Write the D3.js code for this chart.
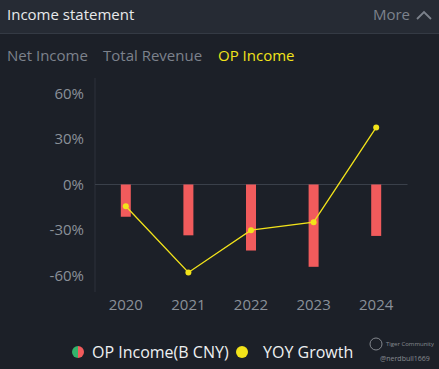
<!DOCTYPE html>
<html><head><meta charset="utf-8">
<script src="https://cdn.jsdelivr.net/npm/d3@7"></script>
<style>
html,body{margin:0;padding:0;background:#1c2028;}
svg{display:block;font-family:"Open Sans","Noto Sans",sans-serif;}
</style></head>
<body><svg id="c" width="439" height="369"></svg>
<script>
const years = ["2020","2021","2022","2023","2024"];
const opIncome = [-2.12, -3.34, -4.34, -5.41, -3.38]; // B CNY
const yoyGrowth = [-14.3, -57.8, -30.0, -24.8, 37.5]; // %
const yTicks = [60, 30, 0, -30, -60];
const tabs = ["Net Income", "Total Revenue", "OP Income"];

const svg = d3.select("#c");
const W = 439, H = 369;
svg.append("rect").attr("width", W).attr("height", H).attr("fill", "#1c2028");
svg.append("rect").attr("width", W).attr("height", 33).attr("fill", "#262b34");
svg.append("line").attr("x1", 0).attr("x2", W).attr("y1", 33.5).attr("y2", 33.5).attr("stroke", "#343a44");
svg.append("text").attr("x", 7).attr("y", 20).attr("fill", "#e8e9eb").attr("font-size", 15).text("Income statement");
svg.append("text").attr("x", 410).attr("y", 20).attr("text-anchor", "end").attr("fill", "#7c828c").attr("font-size", 15).text("More");
svg.append("path").attr("d", "M417,19 L424,12 L431,19").attr("fill", "none").attr("stroke", "#7c828c").attr("stroke-width", 1.8);

const tabX = [7, 103, 218];
tabs.forEach((t, i) => {
  svg.append("text").attr("x", tabX[i]).attr("y", 61).attr("font-size", 15)
    .attr("fill", i === 2 ? "#f2e31a" : "#7c828c").text(t);
});

const x = d3.scaleBand().domain(years).range([94.5, 407.5]);
const y = d3.scaleLinear().domain([-70, 70]).range([291, 78]);
const yBar = d3.scaleLinear().domain([-7, 7]).range([291, 78]);

// y axis
const yAxis = svg.append("g").attr("transform", "translate(95,0)")
  .call(d3.axisLeft(y).tickValues(yTicks).tickSize(0).tickPadding(11).tickFormat(d => d + "%"));
yAxis.select(".domain").attr("stroke", "#2c313a").attr("d", "M0,78V292");
yAxis.selectAll("text").attr("fill", "#8a9099").attr("font-size", 15).attr("font-family", "Open Sans, Noto Sans, sans-serif");

// x axis labels
const xAxis = svg.append("g").attr("transform", "translate(0,292)")
  .call(d3.axisBottom(x).tickSize(0).tickPadding(7));
xAxis.select(".domain").remove();
xAxis.selectAll("text").attr("fill", "#8a9099").attr("font-size", 15).attr("font-family", "Open Sans, Noto Sans, sans-serif");

// zero line
svg.append("line").attr("x1", 95).attr("x2", 407.5).attr("y1", y(0)).attr("y2", y(0)).attr("stroke", "#3a404a");

// bars
svg.selectAll("rect.bar").data(opIncome).join("rect").attr("class", "bar")
  .attr("x", (d, i) => x(years[i]) + x.bandwidth() / 2 - 5)
  .attr("width", 10)
  .attr("y", d => Math.min(yBar(0), yBar(d)))
  .attr("height", d => Math.abs(yBar(d) - yBar(0)))
  .attr("fill", "#f15b5c");

// line
const line = d3.line().x((d, i) => x(years[i]) + x.bandwidth() / 2).y(d => y(d));
svg.append("path").datum(yoyGrowth).attr("d", line).attr("fill", "none").attr("stroke", "#f2e31a").attr("stroke-width", 1.3);
svg.selectAll("circle.pt").data(yoyGrowth).join("circle").attr("class", "pt")
  .attr("cx", (d, i) => x(years[i]) + x.bandwidth() / 2).attr("cy", d => y(d)).attr("r", 3).attr("fill", "#f2e31a");

// legend
const lg = svg.append("g");
lg.append("path").attr("d", "M78,346 A6,6 0 0 0 78,358 Z").attr("fill", "#33b36b");
lg.append("path").attr("d", "M78,346 A6,6 0 0 1 78,358 Z").attr("fill", "#f15b5c");
lg.append("text").attr("x", 92).attr("y", 358).attr("fill", "#eef0f2").attr("font-size", 16).text("OP Income(B CNY)");
lg.append("circle").attr("cx", 242).attr("cy", 352).attr("r", 6).attr("fill", "#f2e31a");
lg.append("text").attr("x", 263).attr("y", 358).attr("fill", "#eef0f2").attr("font-size", 16).text("YOY Growth");

// watermark
const wm = svg.append("g").attr("opacity", 0.6);
wm.append("circle").attr("cx", 376).attr("cy", 344).attr("r", 6).attr("fill", "none").attr("stroke", "#c8ccd2").attr("stroke-width", 1);
wm.append("text").attr("x", 386).attr("y", 346).attr("fill", "#c8ccd2").attr("font-size", 6).text("Tiger Community");
wm.append("text").attr("x", 380).attr("y", 361).attr("fill", "#c8ccd2").attr("font-size", 7).text("@nerdbull1669");
</script></body></html>
